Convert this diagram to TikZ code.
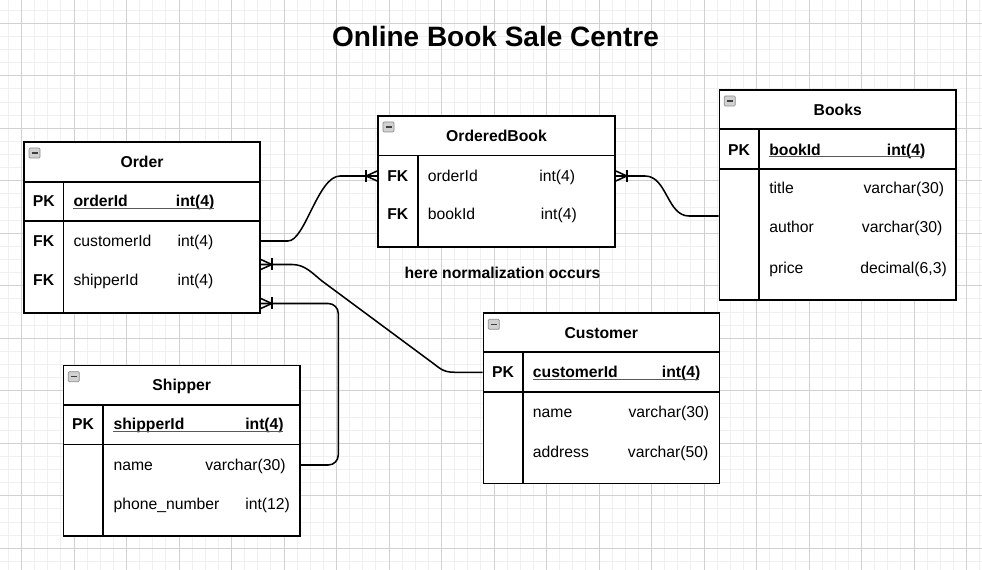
\documentclass[tikz,border=0pt]{standalone}
\usepackage{fontspec}
\setmainfont{Liberation Sans}
\usetikzlibrary{fit}
\begin{document}
\begin{tikzpicture}[x=0.75pt,y=-0.75pt,
  minorgrid/.style={draw=black!6,line width=0.75pt},
  majorgrid/.style={draw=black!18,line width=0.75pt},
  tbl/.style={draw=black,line width=1.2pt,fill=white,inner sep=0pt},
  sepline/.style={draw=black,line width=1.2pt},
  hdr/.style={font=\fontsize{11.8}{14}\selectfont\bfseries,text height=8.5pt,text depth=0pt,inner sep=0pt},
  fld/.style={font=\fontsize{11.8}{14}\selectfont,anchor=west,text height=8.5pt,text depth=0pt,inner sep=0pt},
  pkf/.style={fld,font=\fontsize{11.8}{14}\selectfont\bfseries},
  uline/.style={draw=black!65,line width=0.8pt},
  conn/.style={draw=black,line width=1.15pt},
  ttl/.style={font=\fontsize{21}{25}\selectfont\bfseries,text height=15.1pt,text depth=0pt,inner sep=0pt},
  collapse/.pic={
    \draw[draw=black!45,fill=black!18,line width=0.5pt,rounded corners=0.8pt] (0,0) rectangle (11,10);
    \draw[draw=black!75,line width=0.9pt] (2.5,5) -- (8.5,5);
  },
  crowfoot/.pic={
    \draw[conn] (0,0) -- (11,0);
    \draw[conn] (0,-5) -- (11,0) -- (0,5);
    \draw[conn] (11,-6) -- (11,6);
  }
]
\useasboundingbox (0,0) rectangle (982,570);
\fill[white] (0,0) rectangle (982,570);
% grid
\foreach \i in {-2,...,74} \draw[minorgrid] ({21.5+13.125*\i},0) -- ({21.5+13.125*\i},570);
\foreach \j in {-2,...,42} \draw[minorgrid] (0,{23.3+13.125*\j}) -- (982,{23.3+13.125*\j});
\foreach \i in {-1,...,18} \draw[majorgrid] ({21.5+52.5*\i},0) -- ({21.5+52.5*\i},570);
\foreach \j in {-1,...,11} \draw[majorgrid] (0,{23.3+52.5*\j}) -- (982,{23.3+52.5*\j});

% title
\node[ttl] (title) at (495.5,36.7) {Online Book Sale Centre};

% ---------- Order ----------
\node[tbl,fit={(24,142)(260,313)}] (order) {};
\draw[sepline] (24,182) -- (260,182);
\draw[sepline] (24,221) -- (260,221);
\draw[sepline] (63.3,182) -- (63.3,313);
\pic at (29,148) {collapse};
\node[hdr] (order-t) at (142,162) {Order};
\node[hdr] (order-k1) at (43.7,201) {PK};
\node[pkf] (order-f1) at (73.3,201) {orderId};
\node[pkf] (order-y1) at (175.7,201) {int(4)};
\draw[uline] (73.3,208.7) -- (213.7,208.7);
\node[hdr] (order-k2) at (43.7,241) {FK};
\node[fld] (order-f2) at (73.3,241) {customerId};
\node[fld] (order-y2) at (177.3,241) {int(4)};
\node[hdr] (order-k3) at (43.7,280) {FK};
\node[fld] (order-f3) at (73.3,280) {shipperId};
\node[fld] (order-y3) at (177.3,280) {int(4)};

% ---------- OrderedBook ----------
\node[tbl,fit={(378,116)(615,247.3)}] (ob) {};
\draw[sepline] (378,155.7) -- (615,155.7);
\draw[sepline] (417.7,155.7) -- (417.7,247.3);
\pic at (383,122) {collapse};
\node[hdr] (ob-t) at (496.5,136) {OrderedBook};
\node[hdr] (ob-k1) at (397.8,175.7) {FK};
\node[fld] (ob-f1) at (427.7,175.7) {orderId};
\node[fld] (ob-y1) at (539,175.7) {int(4)};
\node[hdr] (ob-k2) at (397.8,214.3) {FK};
\node[fld] (ob-f2) at (427.7,214.3) {bookId};
\node[fld] (ob-y2) at (540.7,214.3) {int(4)};
\node[hdr] (note) at (502.5,273) {here normalization occurs};

% ---------- Books ----------
\node[tbl,fit={(719.3,90)(956,300)}] (books) {};
\draw[sepline] (719.3,129.3) -- (956,129.3);
\draw[sepline] (719.3,169) -- (956,169);
\draw[sepline] (759,129.3) -- (759,300);
\pic at (724.3,96) {collapse};
\node[hdr] (books-t) at (837.7,109.5) {Books};
\node[hdr] (books-k1) at (739,150) {PK};
\node[pkf] (books-f1) at (769,150) {bookId};
\node[pkf] (books-y1) at (886.7,150) {int(4)};
\draw[uline] (769,156.7) -- (924,156.7);
\node[fld] (books-f2) at (769,188.3) {title};
\node[fld] (books-y2) at (863.3,188.3) {varchar(30)};
\node[fld] (books-f3) at (769,227.3) {author};
\node[fld] (books-y3) at (861.7,227.3) {varchar(30)};
\node[fld] (books-f4) at (769,267.7) {price};
\node[fld] (books-y4) at (860,267.7) {decimal(6,3)};

% ---------- Shipper ----------
\node[tbl,fit={(63.3,365.7)(300,536)}] (ship) {};
\draw[sepline] (63.3,405) -- (300,405);
\draw[sepline] (63.3,444.3) -- (300,444.3);
\draw[sepline] (102.7,405) -- (102.7,536);
\pic at (68.3,371.7) {collapse};
\node[hdr] (ship-t) at (181.7,385.3) {Shipper};
\node[hdr] (ship-k1) at (83,424) {PK};
\node[pkf] (ship-f1) at (113.3,424) {shipperId};
\node[pkf] (ship-y1) at (245,424) {int(4)};
\draw[uline] (113.3,431.7) -- (283.3,431.7);
\node[fld] (ship-f2) at (113.3,465) {name};
\node[fld] (ship-y2) at (205,465) {varchar(30)};
\node[fld] (ship-f3) at (113.3,504) {phone\_number};
\node[fld] (ship-y3) at (245,504) {int(12)};

% ---------- Customer ----------
\node[tbl,fit={(483.3,313.3)(719.3,483.3)}] (cust) {};
\draw[sepline] (483.3,352.3) -- (719.3,352.3);
\draw[sepline] (483.3,391.7) -- (719.3,391.7);
\draw[sepline] (522.7,352.3) -- (522.7,483.3);
\pic at (488.3,319.3) {collapse};
\node[hdr] (cust-t) at (601.3,333.3) {Customer};
\node[hdr] (cust-k1) at (503,372.3) {PK};
\node[pkf] (cust-f1) at (532.7,372.3) {customerId};
\node[pkf] (cust-y1) at (661.7,372.3) {int(4)};
\draw[uline] (532.7,379.3) -- (699.3,379.3);
\node[fld] (cust-f2) at (532.7,411.7) {name};
\node[fld] (cust-y2) at (628.3,411.7) {varchar(30)};
\node[fld] (cust-f3) at (532.7,451.7) {address};
\node[fld] (cust-y3) at (627.7,451.7) {varchar(50)};

% ---------- connectors ----------
\coordinate (c1a) at (order.east |- 0,241);
\coordinate (c1b) at (ob.west |- 0,176);
\coordinate (c2a) at (ob.east |- 0,176);
\coordinate (c2b) at (books.west |- 0,216);
\coordinate (c3a) at (cust.west |- 0,372.3);
\coordinate (c3b) at (order.east |- 0,264.5);
\coordinate (c4a) at (ship.east |- 0,465);
\coordinate (c4b) at (order.east |- 0,303.5);

\draw[conn] (c1a) -- (288,241) .. controls (305,241) and (318,176) .. (340,176) -- (c1b);
\pic[xscale=-1] at (c1b) {crowfoot};

\draw[conn] (c2a) -- (645,176) .. controls (667,176) and (667,216) .. (689,216) -- (c2b);
\pic at (c2a) {crowfoot};

\draw[conn] (c3a) -- (455,372.3) .. controls (442,372.3) and (440,368) .. (430,361) -- (322,281) .. controls (312,273) and (305,264.5) .. (292,264.5) -- (c3b);
\pic at (c3b) {crowfoot};

\draw[conn,rounded corners=7.5pt] (c4a) -- (338.3,465) -- (338.3,303.5) -- (c4b);
\pic at (c4b) {crowfoot};
\end{tikzpicture}
\end{document}
